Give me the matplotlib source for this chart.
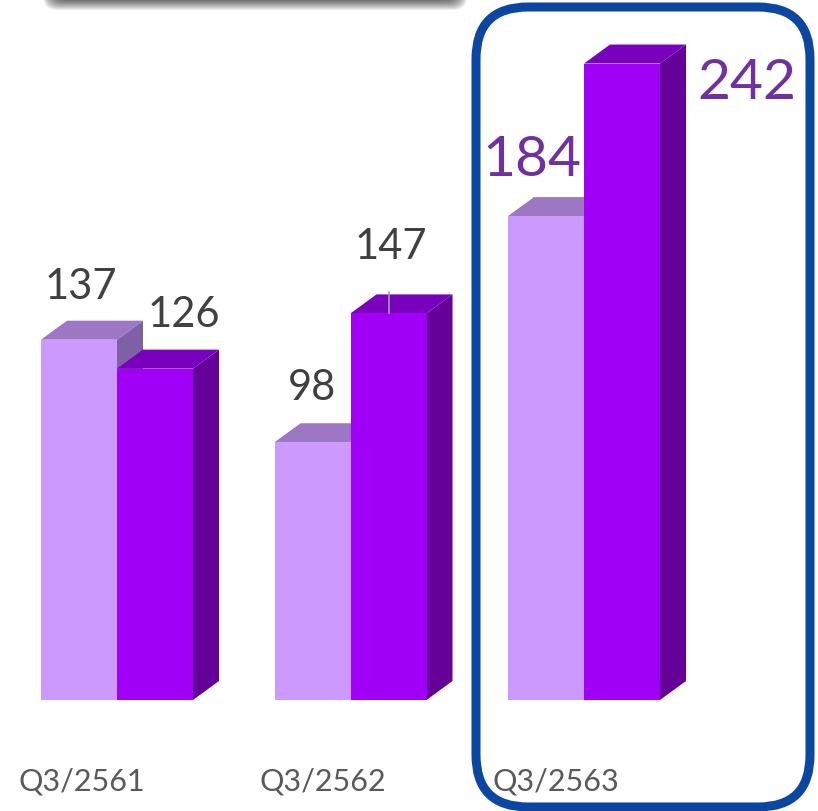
import matplotlib.pyplot as plt
from matplotlib.patches import Polygon, FancyBboxPatch

# data
categories = ["Q3/2561", "Q3/2562", "Q3/2563"]
prev_year = [137, 98, 184]
this_year = [126, 147, 242]

# layout (pixels)
W, H = 818, 812
PX_PER_UNIT = 2.63
BASE_PX = 701
GROUP_X0 = 41
GROUP_STEP = 233.5
BAR_W = 76
DEPTH_X, DEPTH_Y = 26, 19

light = {"front": "#CC99FF", "top": "#9C77C4", "side": "#7F60A6"}
dark = {"front": "#A000F5", "top": "#7900BC", "side": "#650098"}

# label offsets relative to bar top-centre, in pixels (dx, dy)
prev_off = [(2, 42), (0, 43), (-14, 41)]
this_off = [(29, 43), (2, 55), (125, -34)]
label_colors = ["#404040", "#404040", "#7030A0"]
label_sizes = [30, 30, 41]
cat_dx = [-23, -15, -15]

fig = plt.figure(figsize=(W / 100, H / 100), dpi=100)
ax = fig.add_axes([0, 0, 1, 1])
ax.set_xlim(0, W)
ax.set_ylim((BASE_PX - H) / PX_PER_UNIT, BASE_PX / PX_PER_UNIT)
ax.axis("off")

dy = DEPTH_Y / PX_PER_UNIT


def bar3d(x0, h, cols):
    side = [(x0 + BAR_W, 0), (x0 + BAR_W + DEPTH_X, dy),
            (x0 + BAR_W + DEPTH_X, h + dy), (x0 + BAR_W, h)]
    top = [(x0, h), (x0 + BAR_W, h), (x0 + BAR_W + DEPTH_X, h + dy), (x0 + DEPTH_X, h + dy)]
    front = [(x0, 0), (x0 + BAR_W, 0), (x0 + BAR_W, h), (x0, h)]
    for pts, key in [(side, "side"), (top, "top"), (front, "front")]:
        ax.add_patch(Polygon(pts, closed=True, fc=cols[key], ec="none"))


for i, cat in enumerate(categories):
    x_light = GROUP_X0 + i * GROUP_STEP
    x_dark = x_light + BAR_W
    bar3d(x_light, prev_year[i], light)
    bar3d(x_dark, this_year[i], dark)

    for x0, v, off in [(x_light, prev_year[i], prev_off[i]), (x_dark, this_year[i], this_off[i])]:
        ax.text(x0 + BAR_W / 2 + off[0], v + off[1] / PX_PER_UNIT, str(v),
                ha="center", va="baseline", family="Lato",
                fontsize=label_sizes[i], color=label_colors[i])

    ax.text(x_light + cat_dx[i], -90 / PX_PER_UNIT, cat, ha="left", va="baseline",
            family=["Liberation Sans Narrow", "Lato"], fontsize=22, color="#595959")

# leader line on the 147 label
xc = GROUP_X0 + 1 * GROUP_STEP + BAR_W * 1.5
ax.plot([xc, xc], [this_year[1], this_year[1] + 21 / PX_PER_UNIT], color="#A0A0A0", lw=1.2)

# decorations in pixel coordinates
ov = fig.add_axes([0, 0, 1, 1], zorder=5)
ov.set_xlim(0, W)
ov.set_ylim(H, 0)
ov.axis("off")
ov.patch.set_alpha(0)

for k in range(10):
    ov.add_patch(FancyBboxPatch((52 - k, -60), 406 + 2 * k, 62 + k,
                                boxstyle="round,pad=0,rounding_size=14",
                                fc="black", ec="none", alpha=0.07))

ov.add_patch(FancyBboxPatch((476, 8), 334, 800, boxstyle="round,pad=0,rounding_size=52",
                            fc="none", ec="#0B47A1", lw=6.5))

fig.savefig("out.png", dpi=100)
